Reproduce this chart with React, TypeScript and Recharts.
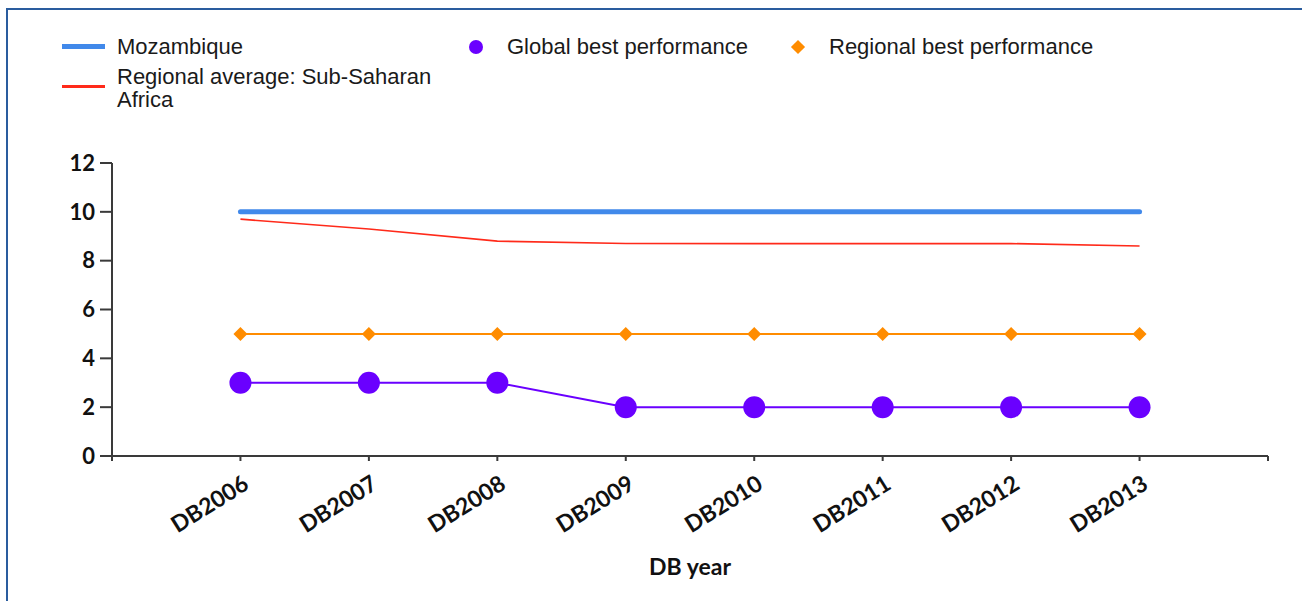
import React from 'react';
import { LineChart, Line, XAxis, YAxis } from 'recharts';

const years = ['DB2006', 'DB2007', 'DB2008', 'DB2009', 'DB2010', 'DB2011', 'DB2012', 'DB2013'];
const mozambique = [10, 10, 10, 10, 10, 10, 10, 10];
const regionalAverage = [9.7, 9.3, 8.8, 8.7, 8.7, 8.7, 8.7, 8.6];
const globalBest = [3, 3, 3, 2, 2, 2, 2, 2];
const regionalBest = [5, 5, 5, 5, 5, 5, 5, 5];
const yTicks = [0, 2, 4, 6, 8, 10, 12];
const xTicks = [0, 1, 2, 3, 4, 5, 6, 7, 8, 9];

const data = years.map((year, i) => ({
  x: i + 1,
  year,
  mozambique: mozambique[i],
  regionalAverage: regionalAverage[i],
  globalBest: globalBest[i],
  regionalBest: regionalBest[i],
}));

const BLUE = '#4189ea';
const RED = '#ff2a1a';
const PURPLE = '#6a00ff';
const ORANGE = '#ff8c00';
const AXIS = '#3a3a3a';

const XTick = (props: any) => {
  const { x, y, payload } = props;
  const idx = payload.value - 1;
  if (idx < 0 || idx >= years.length) return null;
  const ax = x + 10;
  const ay = y + 25;
  return (
    <text
      x={ax}
      y={ay}
      transform={`rotate(-32, ${ax}, ${ay})`}
      textAnchor="end"
      fontFamily="Lato"
      fontWeight="bold"
      fontSize={23}
      fill="#111"
    >
      {years[idx]}
    </text>
  );
};

const Diamond = (props: any) => {
  const { cx, cy } = props;
  if (cx == null || cy == null) return null;
  const s = 7;
  return <polygon points={`${cx},${cy - s} ${cx + s},${cy} ${cx},${cy + s} ${cx - s},${cy}`} fill={ORANGE} />;
};

const Dot = (props: any) => {
  const { cx, cy } = props;
  if (cx == null || cy == null) return null;
  return <circle cx={cx} cy={cy} r={11} fill={PURPLE} />;
};

const legendText: React.CSSProperties = {
  position: 'absolute',
  fontFamily: '"Liberation Sans", Arial, sans-serif',
  fontSize: 22,
  lineHeight: '23px',
  color: '#1a1a1a',
  whiteSpace: 'nowrap',
};

export default function App() {
  return (
    <div style={{ position: 'fixed', left: 0, top: 0, width: 1302, height: 601, background: '#fff', overflow: 'hidden' }}>
      <div
        style={{
          position: 'absolute',
          left: 6,
          top: 8,
          width: 1310,
          height: 610,
          borderLeft: '2px solid #2a5c9e',
          borderTop: '2px solid #2a5c9e',
          boxSizing: 'border-box',
        }}
      />
      <div style={{ position: 'absolute', left: 0, top: 0 }}>
        <LineChart width={1302} height={601} data={data} margin={{ top: 163, right: 34, left: 52, bottom: 24 }}>
          <XAxis
            dataKey="x"
            type="number"
            domain={[0, 9]}
            ticks={xTicks}
            interval={0}
            tickSize={5}
            tickLine={{ stroke: AXIS, strokeWidth: 2 }}
            axisLine={{ stroke: AXIS, strokeWidth: 2 }}
            tick={<XTick />}
            height={121}
            label={{ value: 'DB year', position: 'insideBottom', offset: 2, fontFamily: 'Lato', fontWeight: 'bold', fontSize: 23, fill: '#111' }}
          />
          <YAxis
            domain={[0, 12]}
            ticks={yTicks}
            interval={0}
            width={60}
            tickSize={12}
            tickMargin={5}
            tickLine={{ stroke: AXIS, strokeWidth: 2 }}
            axisLine={{ stroke: AXIS, strokeWidth: 2 }}
            tick={{ fontFamily: 'Lato', fontWeight: 'bold', fontSize: 22, fill: '#111' }}
          />
          <Line dataKey="mozambique" stroke={BLUE} strokeWidth={5} strokeLinecap="round" dot={false} activeDot={false} isAnimationActive={false} />
          <Line dataKey="regionalAverage" stroke={RED} strokeWidth={1.6} dot={false} activeDot={false} isAnimationActive={false} />
          <Line dataKey="regionalBest" stroke={ORANGE} strokeWidth={2} dot={<Diamond />} activeDot={false} isAnimationActive={false} />
          <Line dataKey="globalBest" stroke={PURPLE} strokeWidth={2} dot={<Dot />} activeDot={false} isAnimationActive={false} />
        </LineChart>
      </div>
      <div style={{ position: 'absolute', left: 62, top: 44, width: 43, height: 5, background: BLUE }} />
      <div style={{ ...legendText, left: 117, top: 35 }}>Mozambique</div>
      <div style={{ position: 'absolute', left: 62, top: 85, width: 43, height: 3, background: RED }} />
      <div style={{ ...legendText, left: 117, top: 65 }}>
        Regional average: Sub-Saharan
        <br />
        Africa
      </div>
      <div style={{ position: 'absolute', left: 469, top: 40, width: 14, height: 14, borderRadius: 7, background: PURPLE }} />
      <div style={{ ...legendText, left: 507, top: 35 }}>Global best performance</div>
      <div style={{ position: 'absolute', left: 793, top: 42, width: 10, height: 10, background: ORANGE, transform: 'rotate(45deg)' }} />
      <div style={{ ...legendText, left: 829, top: 35 }}>Regional best performance</div>
    </div>
  );
}
